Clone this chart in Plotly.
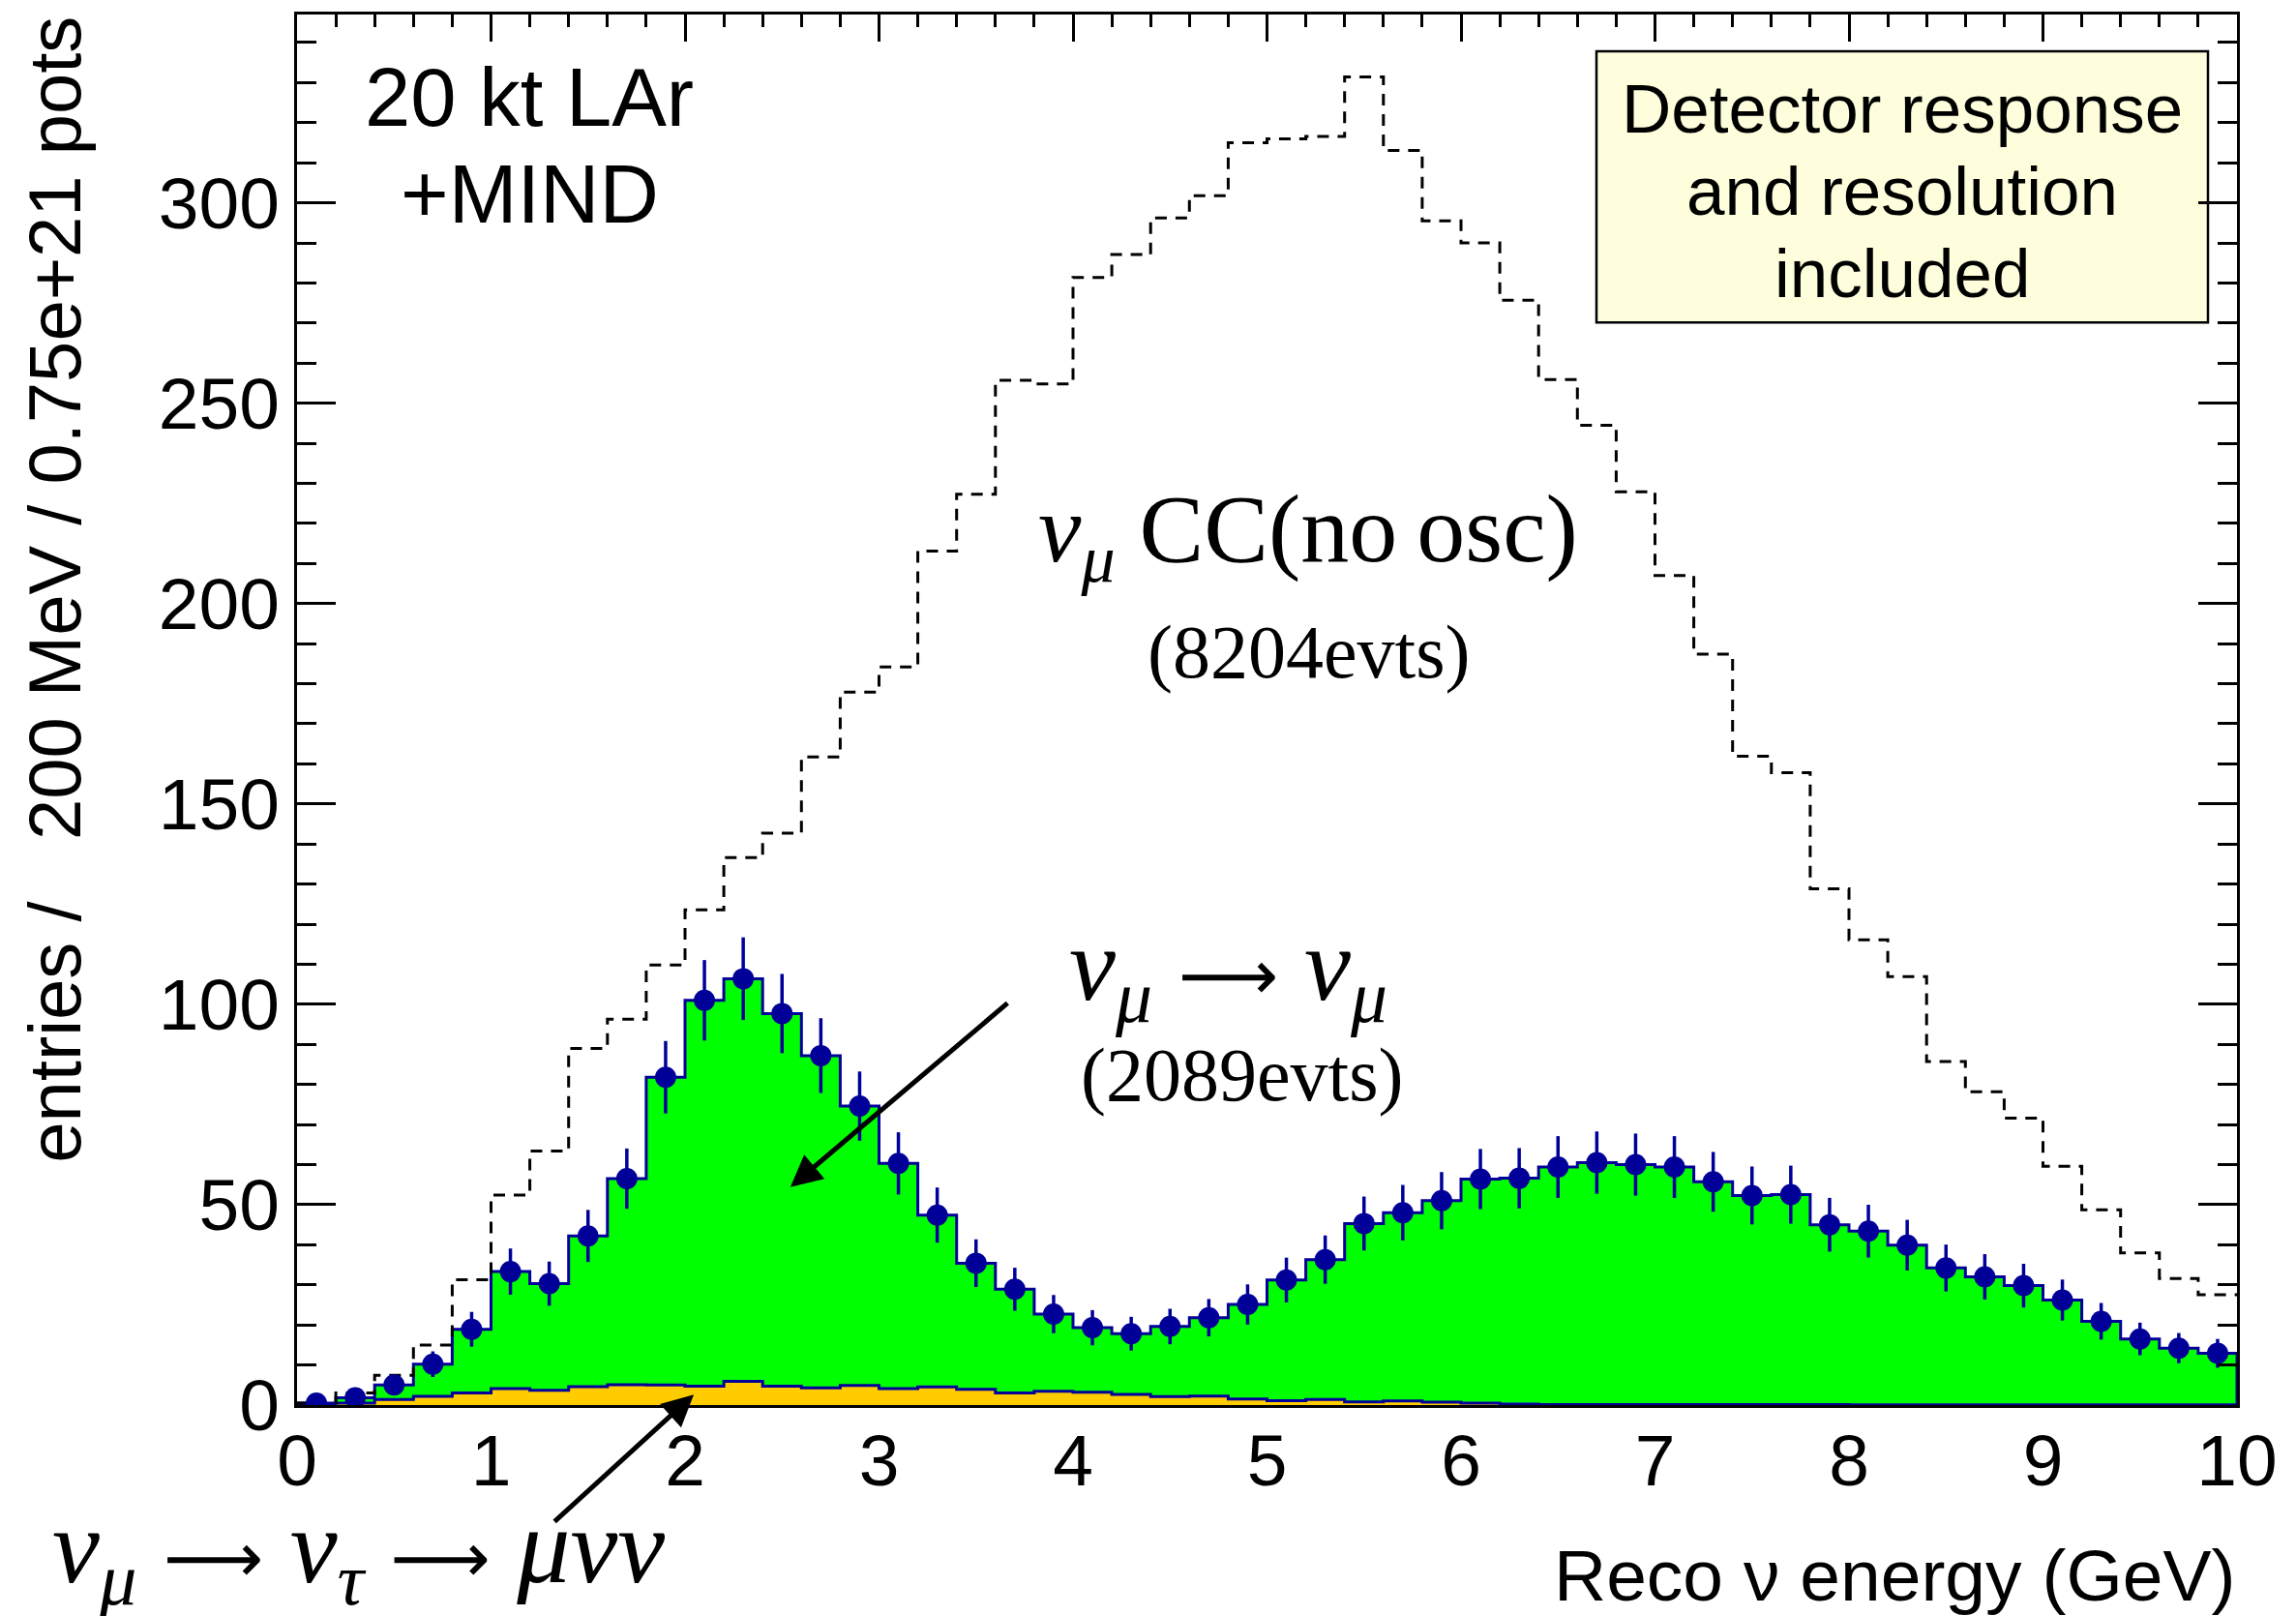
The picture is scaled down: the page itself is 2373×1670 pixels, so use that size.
import numpy as np
import plotly.graph_objects as go

# ---------------- data ----------------
bin_width = 0.2
n_bins = 50
edges = np.round(np.arange(n_bins + 1) * bin_width, 6)
centers = edges[:-1] + bin_width / 2

# nu_mu CC, no oscillation (dashed), 8204 evts
no_osc = [0.5, 3.0, 7.4, 15.0, 31.3, 52.4, 63.4, 89.0, 96.3, 109.8,
          123.6, 136.6, 142.7, 161.7, 177.9, 184.2, 213.1, 227.3, 255.7, 254.8,
          281.4, 287.1, 296.2, 301.8, 315.0, 316.0, 316.6, 331.4, 313.1, 295.5,
          290.0, 275.7, 255.9, 244.5, 227.9, 207.0, 187.4, 161.9, 157.8, 128.8,
          116.1, 106.9, 85.7, 78.2, 71.6, 59.6, 48.7, 38.0, 31.6, 27.5]

# nu_mu -> nu_mu (green), 2089 evts
numu = [0.5, 1.8, 5.0, 10.2, 18.9, 33.3, 30.3, 42.2, 56.5, 81.8,
        101.0, 106.4, 97.7, 87.2, 74.6, 60.3, 47.4, 35.4, 28.9, 22.7,
        19.3, 17.8, 19.6, 21.8, 25.1, 31.2, 36.3, 45.3, 48.0, 51.0,
        56.4, 56.6, 59.4, 60.5, 60.0, 59.4, 55.7, 52.3, 52.5, 45.0,
        43.4, 39.9, 34.2, 32.0, 29.8, 26.2, 20.9, 16.5, 14.2, 12.9]

# nu_mu -> nu_tau -> mu nu nu (orange)
nutau = [0.0, 0.5, 1.4, 2.2, 3.0, 4.1, 3.7, 4.6, 5.1, 5.0,
         4.7, 5.9, 4.7, 4.3, 4.9, 4.1, 4.5, 3.9, 3.0, 3.45,
         3.2, 2.65, 2.1, 2.25, 1.5, 1.1, 1.4, 0.8, 1.0, 0.7,
         0.5, 0.25, 0.1, 0.1, 0.1, 0.1, 0.1, 0.1, 0.1, 0.1,
         0.05, 0.05, 0.05, 0.05, 0.05, 0.05, 0.05, 0.05, 0.05, 0.05]

x_ticks = list(range(0, 11))
y_ticks = [0, 50, 100, 150, 200, 250, 300]

# ---------------- styles ----------------
NAVY = "#000099"
GREEN = "#00FF00"
ORANGE = "#FFCC00"
SANS = "Liberation Sans, Arial, Helvetica, sans-serif"
SERIF = "Liberation Serif, Times New Roman, serif"
ARROW = "<span style='font-family:DejaVu Sans;font-size:72px'>\u27f6</span>"

W, H = 2373, 1670
L, R, T, B = 307, 61, 12, 218
PW, PH = W - L - R, H - T - B


def px2paper_x(px):
    return (px - L) / PW


def px2paper_y(py):
    return (H - B - py) / PH


def step_xy(vals, close=True):
    xs = [float(edges[0])] + [float(e) for e in edges[:-1]] + [float(edges[-1])]
    ys = [0.0] + list(vals) + [vals[-1]]
    if close:
        xs.append(float(edges[-1]))
        ys.append(0.0)
    return xs, ys


fig = go.Figure()

gx, gy = step_xy(numu)
fig.add_trace(go.Scatter(x=gx, y=gy, mode="lines", line=dict(color=NAVY, width=3, shape="hv"),
                         fill="tozeroy", fillcolor=GREEN, hoverinfo="skip"))

tx, ty = step_xy(nutau)
fig.add_trace(go.Scatter(x=tx, y=ty, mode="lines", line=dict(color=NAVY, width=3, shape="hv"),
                         fill="tozeroy", fillcolor=ORANGE, hoverinfo="skip"))

dx, dy = step_xy(no_osc, close=False)
fig.add_trace(go.Scatter(x=dx, y=dy, mode="lines",
                         line=dict(color="black", width=3, shape="hv", dash="12px,9px"),
                         hoverinfo="skip"))

fig.add_trace(go.Scatter(x=centers, y=numu, mode="markers",
                         marker=dict(color=NAVY, size=22, line=dict(width=0)),
                         error_y=dict(type="data", array=np.sqrt(numu), thickness=3.5,
                                      width=0, color=NAVY)))

# invisible trace for top axis
fig.add_trace(go.Scatter(x=[0, 10], y=[0, 0], xaxis="x2", mode="lines",
                         line=dict(width=0), hoverinfo="skip", showlegend=False))

fig.update_layout(
    width=W, height=H,
    margin=dict(l=L, r=R, t=T, b=B, pad=0),
    paper_bgcolor="white", plot_bgcolor="white",
    showlegend=False,
    xaxis=dict(range=[0, 10], showgrid=False, zeroline=False,
               showline=True, linecolor="black", linewidth=3, mirror=True,
               ticks="", tickvals=x_ticks, ticktext=[str(v) for v in x_ticks],
               tickfont=dict(family=SANS, size=75, color="black"),
               ticklabelstandoff=-10),
    xaxis2=dict(range=[0, 10], overlaying="x", side="top", showgrid=False,
                zeroline=False, showline=False, showticklabels=False,
                ticks="inside", ticklen=28, tickwidth=3, tickcolor="black",
                tickvals=x_ticks,
                minor=dict(dtick=0.2, ticks="inside", ticklen=13, tickwidth=3,
                           tickcolor="black", showgrid=False)),
    yaxis=dict(range=[0, 347], showgrid=False, zeroline=False,
               showline=True, linecolor="black", linewidth=3, mirror="ticks",
               ticks="inside", ticklen=40, tickwidth=3, tickcolor="black",
               tickvals=y_ticks, ticktext=[str(v) for v in y_ticks],
               tickfont=dict(family=SANS, size=75, color="black"),
               minor=dict(dtick=10, ticks="inside", ticklen=20, tickwidth=3,
                          tickcolor="black", showgrid=False)),
)

ann = []
# axis titles
ann.append(dict(xref="paper", yref="paper", x=px2paper_x(57), y=px2paper_y(608),
                text="entries /\u00a0\u00a0\u00a0200 MeV / 0.75e+21 pots", textangle=-90,
                showarrow=False, xanchor="center", yanchor="middle",
                font=dict(family=SANS, size=76, color="black")))
ann.append(dict(xref="paper", yref="paper", x=1.0, y=px2paper_y(1628),
                text="Reco \u03bd energy (GeV)", showarrow=False,
                xanchor="right", yanchor="middle",
                font=dict(family=SANS, size=75, color="black")))
# top-left label
ann.append(dict(xref="paper", yref="paper", x=px2paper_x(547), y=px2paper_y(98),
                text="20 kt LAr", showarrow=False, xanchor="center", yanchor="middle",
                font=dict(family=SANS, size=85, color="black")))
ann.append(dict(xref="paper", yref="paper", x=px2paper_x(547), y=px2paper_y(198),
                text="+MIND", showarrow=False, xanchor="center", yanchor="middle",
                font=dict(family=SANS, size=85, color="black")))
# box text
for txt, yy in [("Detector response", 110), ("and resolution", 195), ("included", 280)]:
    ann.append(dict(xref="paper", yref="paper", x=px2paper_x(1966), y=px2paper_y(yy),
                    text=txt, showarrow=False, xanchor="center", yanchor="middle",
                    font=dict(family=SANS, size=71, color="black")))
# curve labels
ann.append(dict(xref="paper", yref="paper", x=px2paper_x(1352), y=px2paper_y(552),
                text="<i>\u03bd</i><sub><i>\u03bc</i></sub> CC(no\u2009osc)", showarrow=False,
                xanchor="center", yanchor="middle",
                font=dict(family=SERIF, size=100, color="black")))
ann.append(dict(xref="paper", yref="paper", x=px2paper_x(1353), y=px2paper_y(672),
                text="(8204evts)", showarrow=False, xanchor="center", yanchor="middle",
                font=dict(family=SERIF, size=78, color="black")))
ann.append(dict(xref="paper", yref="paper", x=px2paper_x(1269), y=px2paper_y(1004),
                text="<i>\u03bd</i><sub><i>\u03bc</i></sub> " + ARROW + " <i>\u03bd</i><sub><i>\u03bc</i></sub>",
                showarrow=False, xanchor="center", yanchor="middle",
                font=dict(family=SERIF, size=108, color="black")))
ann.append(dict(xref="paper", yref="paper", x=px2paper_x(1284), y=px2paper_y(1110),
                text="(2089evts)", showarrow=False, xanchor="center", yanchor="middle",
                font=dict(family=SERIF, size=78, color="black")))
ann.append(dict(xref="paper", yref="paper", x=px2paper_x(370), y=px2paper_y(1606),
                text="<i>\u03bd</i><sub><i>\u03bc</i></sub> " + ARROW + " <i>\u03bd</i><sub><i>\u03c4</i></sub> "
                     + ARROW + " <i>\u03bc\u03bd\u03bd</i>",
                showarrow=False, xanchor="center", yanchor="middle",
                font=dict(family=SERIF, size=110, color="black")))
# arrows
ann.append(dict(xref="x", yref="y", x=2.543, y=54.4, axref="x", ayref="y", ax=3.67, ay=100.6,
                text="", showarrow=True, arrowhead=2, arrowsize=1.3, arrowwidth=5,
                arrowcolor="black", standoff=0))
ann.append(dict(xref="x", yref="y", x=2.045, y=2.6, axref="x", ayref="y", ax=1.32, ay=-29.4,
                text="", showarrow=True, arrowhead=2, arrowsize=1.3, arrowwidth=5,
                arrowcolor="black", standoff=0))
fig.update_layout(annotations=ann)

fig.add_shape(type="rect", xref="paper", yref="paper",
              x0=px2paper_x(1650), x1=px2paper_x(2282), y0=px2paper_y(331), y1=px2paper_y(50),
              fillcolor="#FEFEDC", line=dict(color="black", width=2.5), layer="below")

fig.write_html("out.html", config={"displayModeBar": False},
               post_script="document.body.style.margin='0px';")
